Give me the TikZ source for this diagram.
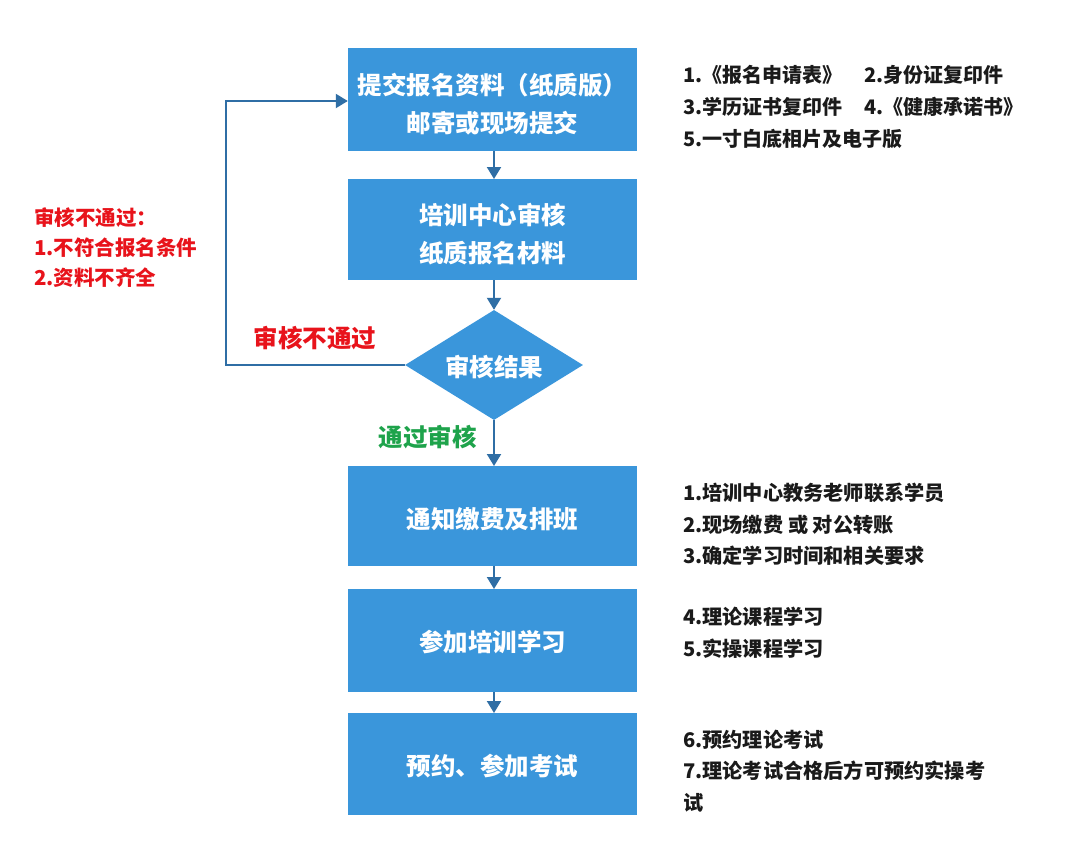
\documentclass[tikz,border=0pt]{standalone}
\usepackage{fontspec}
\setmainfont{Noto Sans CJK SC}
\usetikzlibrary{shapes.geometric,arrows.meta}
\definecolor{boxblue}{HTML}{3A96DB}
\definecolor{linkblue}{HTML}{2F6EA5}
\definecolor{redtxt}{HTML}{E8131B}
\definecolor{greentxt}{HTML}{1EA34B}
\definecolor{darktxt}{HTML}{1A1A1A}
\begin{document}
\begin{tikzpicture}[x=1pt,y=-1pt,
  procbox/.style={rectangle,fill=boxblue,draw=none,minimum width=289pt,anchor=north,
    text=white,align=center,inner sep=0pt},
  boxtext/.style={text=white,font=\fontsize{24.5}{#1}\selectfont\bfseries,align=center,inner sep=0pt},
  decide/.style={diamond,fill=boxblue,draw=none,minimum width=178pt,minimum height=110pt,
    text=white,font=\fontsize{24.5}{30}\selectfont\bfseries,inner sep=0pt},
  link/.style={draw=linkblue,line width=2pt,-{Triangle[width=14pt,length=12pt]}},
  note/.style={anchor=west,align=left,text=darktxt,font=\fontsize{20.2}{31.5}\selectfont\bfseries,inner sep=0pt},
  rednote/.style={anchor=west,align=left,text=redtxt,font=\fontsize{20.5}{30}\selectfont\bfseries,inner sep=0pt},
  lbl/.style={font=\fontsize{24.5}{28}\selectfont\bfseries,inner sep=0pt}
]
\useasboundingbox (0,0) rectangle (1080,844);
\fill[white] (0,0) rectangle (1080,844);

\node[procbox,minimum height=103pt] (b1) at (492.5,48) {};
\node[procbox,minimum height=101pt] (b2) at (492.5,179) {};
\node[decide] (d) at (494,365) {};
\node[procbox,minimum height=100pt] (b3) at (492.5,466) {};
\node[procbox,minimum height=103pt] (b4) at (492.5,589) {};
\node[procbox,minimum height=102pt] (b5) at (492.5,713) {};

\node[boxtext=38.5] (t1) at (492.5,104) {提交报名资料（纸质版）\\邮寄或现场提交};
\node[boxtext=38.5] (t2) at (492.5,234) {培训中心审核\\纸质报名材料};
\node[boxtext=30] (td) at (494,367) {审核结果};
\node[boxtext=30] (t3) at (492.5,519) {通知缴费及排班};
\node[boxtext=30] (t4) at (492.5,642) {参加培训学习};
\node[boxtext=30] (t5) at (492.5,766) {预约、参加考试};

\draw[link] (b1.south -| d.north) -- (b2.north -| d.north);
\draw[link] (b2.south -| d.north) -- (d.north);
\draw[link] (d.south) -- (b3.north -| d.south);
\draw[link] (b3.south -| d.south) -- (b4.north -| d.south);
\draw[link] (b4.south -| d.south) -- (b5.north -| d.south);

\coordinate (lp) at (226,365);
\coordinate (lq) at (226,101);
\draw[link] (d.west) -- (lp) -- (lq) -- (lq -| b1.west);

\node[lbl,text=redtxt] (fail) at (315,338) {审核不通过};
\node[lbl,text=greentxt] (pass) at (427.5,437) {通过审核};

\node[rednote] (reasons) at (34,247.5) {审核不通过：\\1.不符合报名条件\\2.资料不齐全};

\node[note,font=\fontsize{20}{32}\selectfont\bfseries] (n1) at (683,107) {\makebox[181pt][l]{1.《报名申请表》}2.身份证复印件\\\makebox[181pt][l]{3.学历证书复印件}4.《健康承诺书》\\5.一寸白底相片及电子版};
\node[note] (n3) at (683,524.5) {1.培训中心教务老师联系学员\\2.现场缴费 或 对公转账\\3.确定学习时间和相关要求};
\node[note] (n4) at (683,632.5) {4.理论课程学习\\5.实操课程学习};
\node[note] (n5) at (683,771) {6.预约理论考试\\7.理论考试合格后方可预约实操考\\试};
\end{tikzpicture}
\end{document}
